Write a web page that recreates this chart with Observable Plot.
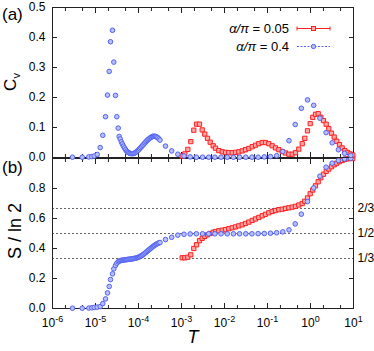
<!DOCTYPE html>
<html><head><meta charset="utf-8">
<script src="https://cdn.jsdelivr.net/npm/d3@7"></script>
<script src="https://cdn.jsdelivr.net/npm/@observablehq/plot@0.6"></script>
<style>
body{margin:0;background:#fff;}
#wrap{position:relative;width:374px;height:351px;overflow:hidden;background:#fff;}
#wrap > svg{position:absolute;left:0;}
</style></head><body><div id="wrap"></div>
<script>
// ---- data (x given as log10 T) ----
const redLogT = [-2.984,-2.923,-2.853,-2.784,-2.714,-2.651,-2.581,-2.519,-2.458,-2.395,-2.333,-2.263,-2.209,-2.133,-2.053,-1.977,-1.900,-1.821,-1.744,-1.667,-1.588,-1.512,-1.435,-1.356,-1.279,-1.202,-1.123,-1.047,-0.970,-0.891,-0.814,-0.737,-0.658,-0.581,-0.505,-0.426,-0.349,-0.272,-0.193,-0.133,-0.070,-0.007,0.053,0.116,0.179,0.240,0.302,0.365,0.426,0.488,0.551,0.612,0.674,0.737,0.798,0.860,0.923,0.984];
const redCv = [0.005,0.012,0.027,0.053,0.091,0.111,0.111,0.092,0.078,0.064,0.051,0.039,0.031,0.023,0.019,0.017,0.016,0.016,0.017,0.019,0.022,0.026,0.030,0.036,0.041,0.046,0.050,0.050,0.046,0.039,0.032,0.026,0.020,0.015,0.011,0.011,0.016,0.028,0.046,0.064,0.089,0.113,0.134,0.144,0.146,0.134,0.123,0.111,0.096,0.081,0.068,0.054,0.043,0.032,0.023,0.017,0.012,0.008];
const redS = [0.338,0.338,0.342,0.358,0.400,0.425,0.452,0.468,0.481,0.491,0.500,0.508,0.513,0.518,0.522,0.526,0.532,0.538,0.544,0.551,0.558,0.567,0.576,0.587,0.597,0.607,0.618,0.628,0.638,0.647,0.653,0.659,0.662,0.667,0.671,0.676,0.681,0.690,0.700,0.715,0.737,0.765,0.790,0.818,0.845,0.872,0.895,0.914,0.930,0.945,0.958,0.969,0.979,0.987,0.994,0.998,1.000,1.000];

const blueLogT = [-5.535,-5.309,-5.156,-5.086,-5.030,-4.960,-4.891,-4.830,-4.767,-4.721,-4.681,-4.651,-4.605,-4.574,-4.535,-4.505,-4.472,-4.449,
  -4.425,-4.400,-4.375,-4.350,-4.325,-4.300,-4.275,-4.250,-4.225,-4.200,-4.175,-4.150,-4.125,-4.100,-4.075,-4.050,-4.025,-4.000,-3.975,-3.950,-3.925,-3.900,-3.875,-3.850,-3.825,-3.800,-3.775,-3.750,-3.725,-3.700,-3.675,-3.650,-3.625,-3.600,-3.575,-3.550,-3.525,-3.500,
  -3.372,-3.228,-3.085,-2.941,-2.798,-2.654,-2.510,-2.367,-2.223,-2.080,-1.936,-1.792,-1.649,-1.505,-1.362,-1.218,-1.074,-0.931,-0.787,-0.644,-0.500,-0.356,-0.213,-0.069,0.074,0.218,0.362,0.505,0.649,0.792,0.936];
const blueCv = [0.001,0.001,0.002,0.003,0.005,0.010,0.033,0.074,0.136,0.208,0.287,0.386,0.424,0.318,0.207,0.136,0.098,0.070,
  0.062,0.052,0.045,0.038,0.032,0.026,0.021,0.018,0.016,0.014,0.013,0.013,0.013,0.014,0.016,0.019,0.022,0.025,0.029,0.033,0.037,0.041,0.045,0.049,0.053,0.057,0.060,0.063,0.066,0.068,0.070,0.071,0.071,0.070,0.068,0.066,0.062,0.058,
  0.038,0.022,0.011,0.005,0.002,0.001,0.001,0.001,0.001,0.001,0.001,0.001,0.001,0.001,0.001,0.001,0.002,0.003,0.006,0.020,0.056,0.110,0.164,0.192,0.174,0.131,0.083,0.049,0.026,0.014,0.007];
const blueS = [0.002,0.002,0.003,0.005,0.007,0.009,0.013,0.033,0.064,0.104,0.147,0.193,0.231,0.264,0.287,0.302,0.311,0.316,
  0.319,0.321,0.322,0.323,0.324,0.325,0.326,0.327,0.328,0.329,0.330,0.331,0.332,0.334,0.335,0.337,0.339,0.342,0.345,0.349,0.353,0.358,0.363,0.369,0.375,0.381,0.387,0.393,0.399,0.405,0.411,0.416,0.421,0.426,0.430,0.434,0.437,0.440,
  0.460,0.475,0.489,0.495,0.497,0.498,0.498,0.498,0.498,0.498,0.498,0.498,0.498,0.498,0.498,0.499,0.500,0.502,0.505,0.511,0.524,0.564,0.629,0.713,0.804,0.882,0.942,0.969,0.987,0.997,1.000];

const xTickExponents = [-6,-5,-4,-3,-2,-1,0,1];
const xMinorFactors = [2,5];
const cvTicks = [0,0.1,0.2,0.3,0.4,0.5];
const sTicks = [0,0.2,0.4,0.6,0.8];
const sSideTicks = [0.2,0.4,0.6,0.8];
const fracValues = [1/3,1/2,2/3];
const fracLabels = ["1/3","1/2","2/3"];
const seriesNames = ["0.05","0.4"];

// ---- build tables ----
const red = redLogT.map((l,i)=>({T:Math.pow(10,l), cv:redCv[i], s:redS[i]}));
const blue = blueLogT.map((l,i)=>({T:Math.pow(10,l), cv:blueCv[i], s:blueS[i]}));
const majors = xTickExponents.map(e=>Math.pow(10,e));
const minors = xTickExponents.slice(0,-1).flatMap(e=>xMinorFactors.map(f=>f*Math.pow(10,e)));

const W=374, ML=52, MR=21;
const FONT='"Liberation Sans", Arial, Helvetica, sans-serif';
const RED_S="#ff1f1f", RED_F="#ffa8a8", BLUE_S="#5263f2", BLUE_F="#b7bfff";
const AX="#222";
const common = {width:W, marginLeft:ML, marginRight:MR,
  x:{type:"log", domain:[1e-6,10]},
  style:{fontFamily:FONT, fontSize:"12px", color:"#000", background:"transparent", overflow:"visible"}};

function dotsFor(key){ return [
  Plot.dot(red,{x:"T", y:key, symbol:"square", r:2.4, stroke:RED_S, fill:RED_F, strokeWidth:1}),
  Plot.dot(blue,{x:"T", y:key, symbol:"circle", r:2.3, stroke:BLUE_S, fill:BLUE_F, strokeWidth:1})
];}
function xTickMarks(anchor){ return [
  Plot.axisX({anchor, ticks:majors, tickSize:-5, fill:"none", stroke:AX, label:null}),
  Plot.axisX({anchor, ticks:minors, tickSize:-3, fill:"none", stroke:AX, label:null})
];}

const plotA = Plot.plot({...common, height:158, marginTop:7, marginBottom:1,
  y:{domain:[0,0.5]},
  marks:[
    Plot.frame({stroke:AX}),
    Plot.axisY({ticks:cvTicks, tickSize:0, tickPadding:7, tickFormat:d=>d.toFixed(1), label:null}),
    Plot.axisY({ticks:cvTicks, tickSize:-5, fill:"none", stroke:AX, label:null}),
    Plot.axisY({anchor:"right", ticks:cvTicks, tickSize:-5, fill:"none", stroke:AX, label:null}),
    ...xTickMarks("top"), ...xTickMarks("bottom"),
    ...dotsFor("cv")
  ]});

const plotB = Plot.plot({...common, height:194, marginTop:1, marginBottom:43,
  y:{domain:[0,1]},
  marks:[
    Plot.ruleY(fracValues,{stroke:"#666", strokeDasharray:"2,2", strokeWidth:1}),
    Plot.frame({stroke:AX}),
    Plot.axisY({ticks:sTicks, tickSize:0, tickPadding:7, tickFormat:d=>d.toFixed(1), label:null}),
    Plot.axisY({ticks:sTicks, tickSize:-5, fill:"none", stroke:AX, label:null}),
    Plot.axisY({anchor:"right", ticks:sSideTicks, tickSize:-5, fill:"none", stroke:AX, label:null}),
    Plot.axisY({anchor:"right", ticks:fracValues, tickSize:0, tickPadding:4, tickFormat:(d,i)=>fracLabels[i], label:null}),
    Plot.axisX({ticks:majors, tickSize:0, tickPadding:10, tickFormat:d=>"10^"+Math.round(Math.log10(d)), label:null}),
    ...xTickMarks("top"), ...xTickMarks("bottom"),
    ...dotsFor("s")
  ]});

const wrap=document.getElementById("wrap");
plotA.style.top="0px"; plotB.style.top="157px";
wrap.appendChild(plotB); wrap.appendChild(plotA);

// superscript exponents on x tick labels
plotB.querySelectorAll('g[aria-label="x-axis tick label"] text').forEach(t=>{
  const m=t.textContent.match(/^10\^(-?\d+)$/);
  if(m){ t.innerHTML='10<tspan dy="-5" font-size="9">'+m[1]+'</tspan>'; }
});

// overlay: panel tags, axis titles, legend
const ov=d3.select(wrap).append("svg").attr("width",374).attr("height",351)
  .style("top","0px").style("font-family",FONT);
ov.append("text").attr("x",2).attr("y",20).attr("font-size",17).text("(a)");
ov.append("text").attr("x",2).attr("y",173).attr("font-size",17).text("(b)");
const cv=ov.append("text").attr("transform","translate(16,82) rotate(-90)").attr("text-anchor","middle").attr("font-size",17);
cv.append("tspan").text("C");
cv.append("tspan").attr("font-size",11).attr("dy",4).text("v");
ov.append("text").attr("transform","translate(21,231) rotate(-90)").attr("text-anchor","middle").attr("font-size",18).text("S / ln 2");
ov.append("text").attr("x",193).attr("y",343).attr("text-anchor","middle").attr("font-size",18).attr("font-style","italic").text("T");

const legY=[28.5,46.5];
[0,1].forEach(i=>{
  const y=legY[i];
  const t=ov.append("text").attr("x",289).attr("y",y+4.5).attr("text-anchor","end").attr("font-size",13);
  t.append("tspan").attr("font-style","italic").text("α/π");
  t.append("tspan").text(" = "+seriesNames[i]);
  if(i===0){
    ov.append("line").attr("x1",297).attr("x2",330).attr("y1",y).attr("y2",y).attr("stroke",RED_S);
    ov.append("line").attr("x1",297).attr("x2",297).attr("y1",y-2).attr("y2",y+2).attr("stroke",RED_S);
    ov.append("line").attr("x1",330).attr("x2",330).attr("y1",y-2).attr("y2",y+2).attr("stroke",RED_S);
    ov.append("rect").attr("x",311.5).attr("y",y-2).attr("width",4).attr("height",4).attr("stroke",RED_S).attr("fill",RED_F);
  } else {
    ov.append("line").attr("x1",297).attr("x2",330).attr("y1",y).attr("y2",y).attr("stroke",BLUE_S).attr("stroke-dasharray","2,1.5");
    ov.append("circle").attr("cx",313.5).attr("cy",y).attr("r",2.2).attr("stroke",BLUE_S).attr("fill",BLUE_F);
  }
});
</script></body></html>
